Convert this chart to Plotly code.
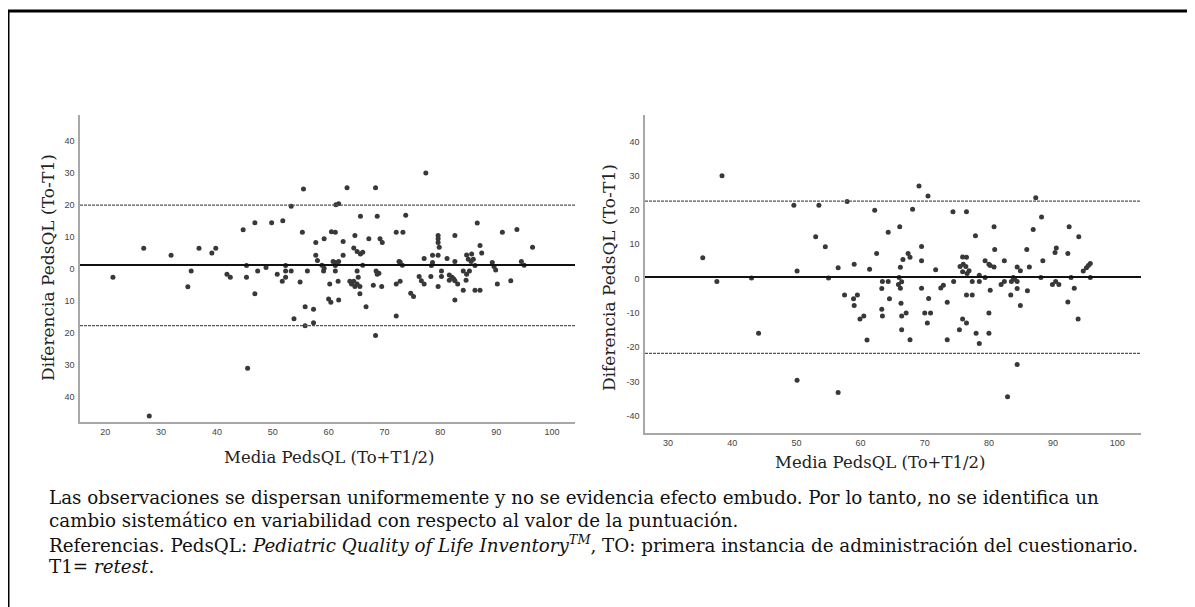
import plotly.graph_objects as go

W, H = 1195, 607

# ---------------- data ----------------
left_x = [21.4, 26.9, 31.8, 34.8, 35.4, 36.8, 39.1, 39.8, 41.8, 42.4, 44.7, 45.3, 45.3, 46.8, 46.8,
          47.3, 48.8, 49.8, 50.8, 51.8, 51.7, 52.3, 52.3, 52.3, 53.3, 53.3, 53.8, 54.9, 55.5, 55.3,
          55.8, 56.2, 57.3, 57.7, 57.7, 58.0, 55.8, 57.3, 45.5, 27.9,
          63.3, 68.4, 77.4, 61.3, 61.8, 65.7, 68.7, 73.8, 60.5, 61.2, 72.1, 73.3, 86.6, 91.1, 93.7,
          96.5, 59.2, 62.6, 64.7, 67.2, 69.2, 69.6, 79.6, 79.6, 79.6, 79.8, 82.6, 87.1, 87.4, 62.6,
          64.5, 65.1, 65.7, 66.1, 77.1, 78.6, 79.6, 81.2, 82.6, 84.7, 85.6, 85.0, 85.5, 85.9, 58.8,
          59.2, 59.1, 60.8, 61.3, 61.8, 61.2, 66.1, 72.6, 72.8, 73.2, 78.4, 78.6, 86.2, 89.3, 89.6,
          89.9, 94.5, 95.0, 61.2, 65.1, 65.3, 68.5, 69.0, 68.7, 76.2, 76.6, 77.1, 78.3, 80.2, 80.2,
          81.6, 82.1, 82.4, 81.6, 82.6, 83.1, 84.1, 84.7, 85.2, 84.6, 61.7, 60.2, 63.8, 64.1, 64.5,
          64.7, 65.1, 65.6, 68.0, 69.5, 72.1, 72.8, 79.6, 84.1, 86.2, 87.1, 90.2, 92.6, 65.6, 74.7,
          75.2, 60.0, 60.4, 61.8, 82.6, 66.7, 72.1, 68.4]
left_y = [-2.6, 6.4, 4.2, -5.6, -0.7, 6.4, 4.9, 6.4, -1.7, -2.6, 12.2, 1.0, -2.6, 14.4, -7.8,
          -0.7, 0.4, 14.4, -1.7, 15.0, -3.9, 1.0, -0.7, -2.6, 19.5, -0.7, -15.6, -4.1, 24.9, 11.4,
          -11.8, -0.7, -12.6, 8.2, 4.2, 2.6, -17.8, -16.8, -31.0, -45.9,
          25.3, 25.3, 29.9, 20.0, 20.3, 16.4, 16.4, 16.7, 11.6, 11.4, 11.4, 11.4, 14.3, 11.4, 12.3,
          6.7, 9.4, 8.5, 10.4, 9.4, 9.4, 8.2, 10.4, 9.4, 8.2, 6.7, 10.4, 7.3, 4.9, 4.2,
          6.5, 5.4, 4.6, 5.2, 3.2, 4.2, 4.2, 3.2, 2.3, 4.3, 4.6, 3.0, 2.3, 3.0, 1.1,
          0.2, -0.7, 2.3, 2.0, 2.3, 1.0, 1.1, 2.3, 2.1, 1.1, 1.0, 2.0, 1.0, 2.0, 0.7,
          -0.4, 2.3, 1.1, -0.7, -0.7, -2.6, -0.7, -1.4, -1.7, -2.4, -3.75, -4.7, -2.4, -0.7, -2.4,
          -1.9, -2.6, -3.2, -3.6, -3.75, -4.7, -0.7, -1.7, -0.7, -3.6, -3.9, -4.7, -3.9, -4.7, -3.9,
          -5.5, -4.7, -5.5, -5.1, -5.5, -4.7, -3.9, -5.5, -6.7, -6.7, -6.7, -4.7, -3.75, -7.8, -7.6,
          -8.6, -9.4, -10.4, -9.7, -9.7, -11.8, -14.7, -20.8]

right_x = [38.4, 35.4, 37.6, 43.0, 49.6, 50.1, 53.5, 53.0, 54.5, 55.0, 56.5, 57.5, 57.9, 58.9, 59.0,
           59.0, 59.5, 59.9, 60.5, 61.4, 62.2, 62.5, 63.3, 63.4, 64.3, 63.3, 64.3, 64.5, 63.4,
           44.1, 61.0, 50.1, 56.5,
           69.1, 70.5, 87.3, 68.1, 74.4, 76.5, 88.2, 66.1, 77.9, 80.8, 86.9, 92.5, 94.0, 69.5, 67.4,
           67.7, 66.6, 66.2, 69.5, 71.7, 75.9, 76.5, 75.5, 76.0, 76.4, 76.9, 75.9, 76.6, 79.4, 80.0,
           80.2, 80.8, 80.9, 82.4, 84.4, 84.9, 85.9, 86.3, 88.4, 90.3, 90.5, 92.3, 94.7, 95.2, 95.5,
           95.8, 66.0, 65.9, 66.4, 66.2, 69.5, 72.5, 72.9, 74.5, 77.4, 78.5, 78.5, 79.4, 80.2, 81.9,
           82.4, 83.5, 83.8, 84.0, 84.4, 83.4, 84.4, 86.0, 88.1, 89.9, 90.4, 90.9, 92.8, 93.3, 95.8,
           66.3, 70.6, 73.5, 76.5, 77.4, 84.9, 92.3, 66.4, 67.1, 70.0, 70.9, 80.0, 75.9, 93.9,
           70.4, 66.4, 67.7, 73.5, 75.4, 76.5, 78.0, 78.5, 80.0, 84.4, 82.9]
right_y = [30.0, 6.1, -0.8, 0.2, 21.4, 2.2, 21.4, 12.2, 9.3, 0.2, 3.2, -4.8, 22.5, -5.9, 4.2,
           -7.8, -4.8, -11.8, -10.9, 2.7, 19.9, 7.3, -8.9, -0.8, -0.8, -2.9, 13.5, -5.9, -10.9,
           -15.9, -17.9, -29.6, -33.2,
           27.0, 24.1, 23.6, 20.2, 19.5, 19.5, 18.0, 15.1, 12.5, 15.1, 14.3, 15.1, 12.2, 9.4, 7.3,
           6.2, 5.6, 3.3, 5.2, 2.6, 6.3, 6.2, 3.5, 4.2, 3.5, 2.3, 2.0, 1.5, 5.2, 4.2,
           3.8, 3.4, 8.5, 5.2, 3.4, 2.3, 8.5, 3.4, 5.2, 7.6, 8.9, 7.3, 2.2, 3.2, 3.8,
           4.4, 0.3, -1.7, -0.9, -2.8, -2.8, -2.7, -1.9, -0.8, -0.8, 1.0, -0.8, 0.3, -3.4, -1.7,
           -0.8, -0.8, 0.3, -0.2, -0.8, -4.8, -2.9, -3.5, 0.3, -1.7, -0.8, -1.7, 0.3, -2.8, 0.3,
           -7.2, -5.8, -6.9, -4.8, -4.8, -7.8, -6.8, -10.9, -10.0, -10.0, -10.0, -10.0, -11.8, -11.8,
           -12.9, -14.9, -17.8, -17.8, -14.9, -12.9, -15.9, -18.9, -15.9, -25.0, -34.4]

left_mean, left_upper, left_lower = 1.2, 19.9, -17.7
right_mean, right_upper, right_lower = 0.5, 22.6, -21.8

left_xticks = [20, 30, 40, 50, 60, 70, 80, 90, 100]
left_yticks = [-40, -30, -20, -10, 0, 10, 20, 30, 40]
left_yticklabels = ["40", "30", "20", "10", "0", "10", "20", "30", "40"]
right_xticks = [30, 40, 50, 60, 70, 80, 90, 100]
right_yticks = [-40, -30, -20, -10, 0, 10, 20, 30, 40]
right_yticklabels = ["-40", "-30", "-20", "-10", "0", "10", "20", "30", "40"]

y_title = "Diferencia PedsQL (To-T1)"
x_title = "Media PedsQL (To+T1/2)"

caption_lines = [
    "Las observaciones se dispersan uniformemente y no se evidencia efecto embudo. Por lo tanto, no se identifica un",
    "cambio sistemático en variabilidad con respecto al valor de la puntuación.",
    "Referencias. PedsQL: <i>Pediatric Quality of Life Inventory<sup>TM</sup></i>, TO: primera instancia de administración del cuestionario.",
    "T1= <i>retest</i>.",
]

# ---------------- layout helpers ----------------
# the page body has an 8px margin, so target pixel p maps to figure pixel p-8
OFF = 8

def px_x(p):
    return (p - OFF) / W

def px_y(p):
    return 1 - (p - OFF) / H

SERIF = "DejaVu Serif"
TICKFONT = dict(family="Liberation Sans", size=9, color="#444444")
AXCOL = "#a8a8a8"
DOT = "#383838"

fig = go.Figure()
fig.add_trace(go.Scatter(x=left_x, y=left_y, mode="markers", xaxis="x", yaxis="y",
                         marker=dict(size=5, color=DOT), showlegend=False, hoverinfo="skip"))
fig.add_trace(go.Scatter(x=right_x, y=right_y, mode="markers", xaxis="x2", yaxis="y2",
                         marker=dict(size=5, color=DOT), showlegend=False, hoverinfo="skip"))

common_ax = dict(showgrid=False, zeroline=False, showline=True, linecolor=AXCOL, linewidth=1.5,
                 ticks="", tickfont=TICKFONT, fixedrange=True)

fig.update_layout(
    width=W, height=H, margin=dict(l=0, r=0, t=0, b=0), autosize=False,
    paper_bgcolor="white", plot_bgcolor="white",
    xaxis=dict(domain=[px_x(80), px_x(575)], range=[15.5, 104.1], tickvals=left_xticks,
               anchor="y", **common_ax),
    yaxis=dict(domain=[px_y(422), px_y(115)], range=[-47.8, 48.0], tickvals=left_yticks,
               ticktext=left_yticklabels, anchor="x", ticklabelstandoff=2, **common_ax),
    xaxis2=dict(domain=[px_x(645), px_x(1141)], range=[26.4, 103.7], tickvals=right_xticks,
                anchor="y2", **common_ax),
    yaxis2=dict(domain=[px_y(433), px_y(115)], range=[-45.0, 47.7], tickvals=right_yticks,
                ticktext=right_yticklabels, anchor="x2", ticklabelstandoff=2, **common_ax),
)

shapes = []
for xr, yr, m, u, l in [("x domain", "y", left_mean, left_upper, left_lower),
                        ("x2 domain", "y2", right_mean, right_upper, right_lower)]:
    shapes.append(dict(type="line", xref=xr, yref=yr, x0=0, x1=1, y0=m, y1=m,
                       line=dict(color="#111111", width=2)))
    for v in (u, l):
        shapes.append(dict(type="line", xref=xr, yref=yr, x0=0, x1=1, y0=v, y1=v,
                           line=dict(color="#555555", width=1.2, dash="3px,1px")))
# page frame
shapes.append(dict(type="line", xref="paper", yref="paper", x0=px_x(8), x1=px_x(1195),
                   y0=px_y(11), y1=px_y(11), line=dict(color="black", width=3)))
shapes.append(dict(type="line", xref="paper", yref="paper", x0=px_x(8), x1=px_x(8),
                   y0=px_y(10), y1=0, line=dict(color="black", width=3)))
shapes.append(dict(type="line", xref="paper", yref="paper", x0=px_x(1192), x1=px_x(1192),
                   y0=px_y(10), y1=0, line=dict(color="#555555", width=1.5)))
fig.update_layout(shapes=shapes)

ann = []
ann.append(dict(text=y_title, x=px_x(48), y=px_y(268), xref="paper", yref="paper",
                xanchor="center", yanchor="middle",
                textangle=-90, showarrow=False, font=dict(family=SERIF, size=17, color="#222")))
ann.append(dict(text=y_title, x=px_x(609), y=px_y(278), xref="paper", yref="paper",
                xanchor="center", yanchor="middle",
                textangle=-90, showarrow=False, font=dict(family=SERIF, size=17, color="#222")))
ann.append(dict(text=x_title, x=px_x(329), y=px_y(457), xref="paper", yref="paper",
                xanchor="center", yanchor="middle",
                showarrow=False, font=dict(family=SERIF, size=16.5, color="#222")))
ann.append(dict(text=x_title, x=px_x(880), y=px_y(463), xref="paper", yref="paper",
                xanchor="center", yanchor="middle",
                showarrow=False, font=dict(family=SERIF, size=16.5, color="#222")))
for i, line in enumerate(caption_lines):
    ann.append(dict(text=line, x=px_x(47), y=px_y(497 + 23.3 * i), xref="paper", yref="paper",
                    xanchor="left", yanchor="middle", showarrow=False,
                    font=dict(family=SERIF, size=18.3, color="#111")))
fig.update_layout(annotations=ann)

fig.write_html("out.html")
